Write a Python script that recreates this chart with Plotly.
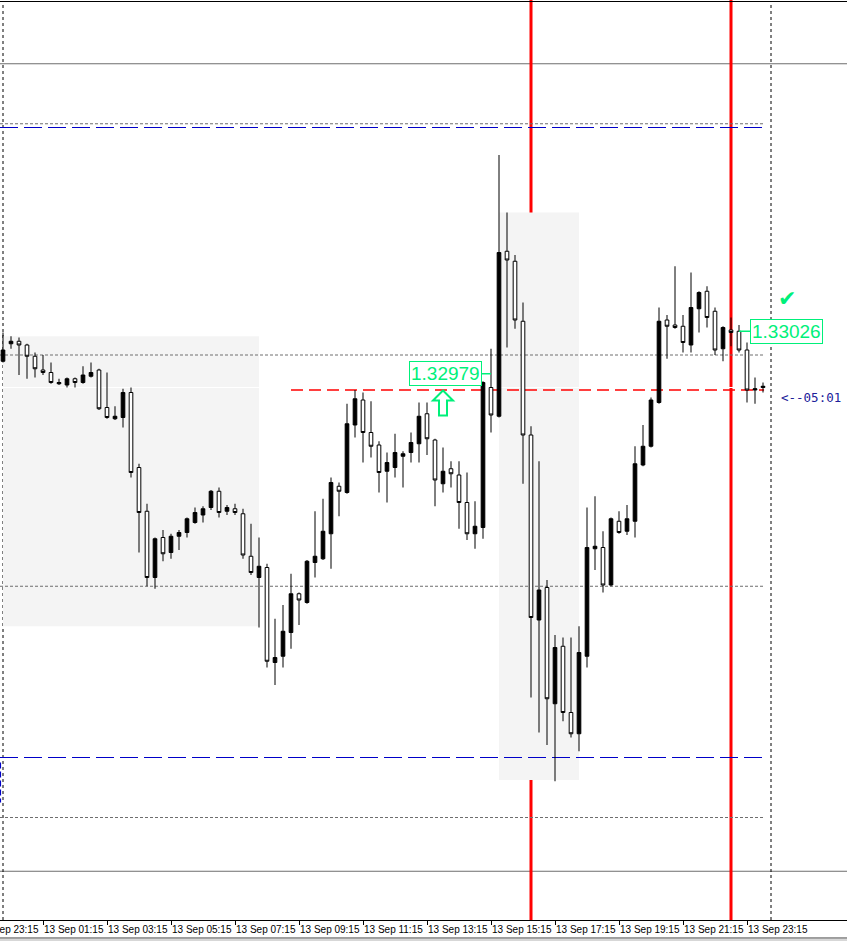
import pandas as pd
import plotly.graph_objects as go

# ---------------- data (15-minute bars, 13 Sep) ----------------
bar_times = pd.date_range("2019-09-13 00:00", periods=96, freq="15min")

opens = [1.33002, 1.33016, 1.33018, 1.33015, 1.33006, 1.32995, 1.32993, 1.32984, 1.32983, 1.32988,
         1.32985, 1.32990, 1.32995, 1.32965, 1.32956, 1.32957, 1.32977, 1.32917, 1.32882, 1.32829,
         1.32861, 1.32849, 1.32862, 1.32865, 1.32873, 1.32879, 1.32885, 1.32898, 1.32882, 1.32884,
         1.32880, 1.32846, 1.32829, 1.32837, 1.32761, 1.32766, 1.32785, 1.32816, 1.32809, 1.32841,
         1.32844, 1.32864, 1.32902, 1.32897, 1.32951, 1.32971, 1.32945, 1.32935, 1.32914, 1.32917,
         1.32926, 1.32929, 1.32936, 1.32960, 1.32939, 1.32904, 1.32916, 1.32911, 1.32889, 1.32864,
         1.32869, 1.32981, 1.32958, 1.33090, 1.33082, 1.33034, 1.32943, 1.32795, 1.32821, 1.32728,
         1.32774, 1.32721, 1.32704, 1.32766, 1.32852, 1.32853, 1.32823, 1.32874, 1.32866, 1.32874,
         1.32919, 1.32934, 1.32969, 1.33035, 1.33031, 1.33030, 1.33015, 1.33044, 1.33058, 1.33042,
         1.33012, 1.33027, 1.33026, 1.33011, 1.32979, 1.32981]
highs = [1.33025, 1.33022, 1.33021, 1.33016, 1.33009, 1.33007, 1.33001, 1.32988, 1.32989, 1.32989,
         1.32998, 1.33001, 1.32996, 1.32993, 1.32966, 1.32980, 1.32981, 1.32920, 1.32888, 1.32861,
         1.32867, 1.32864, 1.32867, 1.32877, 1.32885, 1.32886, 1.32899, 1.32901, 1.32887, 1.32888,
         1.32884, 1.32872, 1.32861, 1.32840, 1.32796, 1.32807, 1.32832, 1.32817, 1.32843, 1.32882,
         1.32892, 1.32909, 1.32905, 1.32968, 1.32979, 1.32977, 1.32970, 1.32938, 1.32929, 1.32944,
         1.32930, 1.32945, 1.32969, 1.32969, 1.32940, 1.32933, 1.32922, 1.32922, 1.32913, 1.32890,
         1.32986, 1.33012, 1.33167, 1.33121, 1.33087, 1.33049, 1.32950, 1.32922, 1.32827, 1.32783,
         1.32781, 1.32781, 1.32790, 1.32885, 1.32894, 1.32866, 1.32877, 1.32882, 1.32887, 1.32934,
         1.32951, 1.32973, 1.33045, 1.33039, 1.33078, 1.33039, 1.33073, 1.33058, 1.33062, 1.33045,
         1.33030, 1.33037, 1.33031, 1.33017, 1.32989, 1.32985]
lows = [1.33001, 1.33012, 1.32991, 1.32988, 1.32989, 1.32991, 1.32984, 1.32983, 1.32981, 1.32981,
        1.32984, 1.32989, 1.32963, 1.32956, 1.32955, 1.32949, 1.32909, 1.32849, 1.32822, 1.32820,
        1.32842, 1.32844, 1.32851, 1.32861, 1.32872, 1.32873, 1.32883, 1.32877, 1.32879, 1.32879,
        1.32844, 1.32831, 1.32789, 1.32757, 1.32743, 1.32757, 1.32772, 1.32791, 1.32808, 1.32829,
        1.32843, 1.32836, 1.32878, 1.32896, 1.32941, 1.32921, 1.32925, 1.32897, 1.32889, 1.32909,
        1.32901, 1.32921, 1.32921, 1.32927, 1.32886, 1.32897, 1.32901, 1.32868, 1.32859, 1.32852,
        1.32860, 1.32945, 1.32957, 1.33013, 1.33028, 1.32904, 1.32733, 1.32705, 1.32695, 1.32666,
        1.32714, 1.32701, 1.32690, 1.32757, 1.32835, 1.32817, 1.32822, 1.32864, 1.32863, 1.32861,
        1.32918, 1.32933, 1.32968, 1.33004, 1.33028, 1.33009, 1.33009, 1.33025, 1.33029, 1.33007,
        1.33002, 1.33014, 1.33009, 1.32969, 1.32968, 1.32977]
closes = [1.33011, 1.33018, 1.33015, 1.33006, 1.32996, 1.32993, 1.32985, 1.32985, 1.32988, 1.32985,
          1.32991, 1.32993, 1.32964, 1.32957, 1.32958, 1.32977, 1.32913, 1.32881, 1.32829, 1.32860,
          1.32848, 1.32862, 1.32865, 1.32876, 1.32881, 1.32884, 1.32898, 1.32881, 1.32885, 1.32881,
          1.32847, 1.32833, 1.32838, 1.32762, 1.32765, 1.32786, 1.32816, 1.32811, 1.32842, 1.32846,
          1.32866, 1.32905, 1.32898, 1.32952, 1.32972, 1.32945, 1.32934, 1.32913, 1.32921, 1.32929,
          1.32928, 1.32937, 1.32958, 1.32940, 1.32907, 1.32914, 1.32912, 1.32889, 1.32864, 1.32870,
          1.32985, 1.32959, 1.33089, 1.33083, 1.33035, 1.32943, 1.32797, 1.32819, 1.32732, 1.32773,
          1.32721, 1.32704, 1.32769, 1.32853, 1.32854, 1.32823, 1.32876, 1.32865, 1.32876, 1.32920,
          1.32934, 1.32971, 1.33034, 1.33030, 1.33029, 1.33017, 1.33045, 1.33057, 1.33037, 1.33011,
          1.33029, 1.33025, 1.33011, 1.32979, 1.32980, 1.32982]

tick_times = ["2019-09-13 01:15", "2019-09-13 03:15", "2019-09-13 05:15", "2019-09-13 07:15",
              "2019-09-13 09:15", "2019-09-13 11:15", "2019-09-13 13:15", "2019-09-13 15:15",
              "2019-09-13 17:15", "2019-09-13 19:15", "2019-09-13 21:15", "2019-09-13 23:15"]
tick_labels = ["13 Sep 01:15", "13 Sep 03:15", "13 Sep 05:15", "13 Sep 07:15",
               "13 Sep 09:15", "13 Sep 11:15", "13 Sep 13:15", "13 Sep 15:15",
               "13 Sep 17:15", "13 Sep 19:15", "13 Sep 21:15", "13 Sep 23:15"]
first_label = "12 Sep 23:15"

solid_levels = [1.33240, 1.32594]
dotted_levels = [1.33192, 1.33007, 1.32822, 1.32637]
blue_levels = [1.33189, 1.32685]
red_level = 1.32979
white_level = 1.32981
zones = [("2019-09-13 00:00", "2019-09-13 08:00", 1.33022, 1.32790),
         ("2019-09-13 15:30", "2019-09-13 18:00", 1.33121, 1.32667)]
red_vlines = ["2019-09-13 16:30", "2019-09-13 22:45"]
day_separators = ["2019-09-13 00:00", "2019-09-14 00:00"]

label_left = ("2019-09-13 15:15", 1.32992, "1.32979")
label_right = ("2019-09-13 23:00", 1.33026, "1.33026")
arrow_pos = ("2019-09-13 13:45", 1.32969)
check_pos = ("2019-09-14 00:30", 1.33052)
timer_pos = ("2019-09-14 00:15", 1.32973, "<--05:01")

x_range = ["2019-09-12 23:54:22.5", "2019-09-14 02:22:30"]
y_range = [1.32555, 1.332894]
line_start, line_end = x_range[0], "2019-09-13 23:47"

GREEN = "#00F07A"

fig = go.Figure()
fig.add_trace(go.Candlestick(
    x=bar_times, open=opens, high=highs, low=lows, close=closes,
    increasing=dict(line=dict(color="black", width=1), fillcolor="black"),
    decreasing=dict(line=dict(color="black", width=1), fillcolor="white"),
    whiskerwidth=0, hoverinfo="skip", showlegend=False,
))

shapes = []
for x0, x1, y0, y1 in zones:
    shapes.append(dict(type="rect", xref="x", yref="y", x0=x0, x1=x1, y0=y0, y1=y1,
                       fillcolor="#F4F4F4", line=dict(width=0), layer="below"))
shapes.append(dict(type="line", xref="x", yref="y", x0=line_start, x1=line_end,
                   y0=white_level, y1=white_level, line=dict(color="white", width=1), layer="below"))
for lv in solid_levels:
    shapes.append(dict(type="line", xref="paper", yref="y", x0=0, x1=1, y0=lv, y1=lv,
                       line=dict(color="#6E6E6E", width=1), layer="below"))
for lv in dotted_levels:
    shapes.append(dict(type="line", xref="x", yref="y", x0=line_start, x1=line_end, y0=lv, y1=lv,
                       line=dict(color="#6E6E6E", width=1, dash="3px,2px"), layer="below"))
for lv in blue_levels:
    shapes.append(dict(type="line", xref="x", yref="y", x0=line_start, x1=line_end, y0=lv, y1=lv,
                       line=dict(color="#0000C8", width=1, dash="18px,6px"), layer="below"))
shapes.append(dict(type="line", xref="x", yref="y", x0="2019-09-13 09:00", x1=line_end,
                   y0=red_level, y1=red_level,
                   line=dict(color="#FF0000", width=1.5, dash="12px,6px"), layer="below"))
shapes.append(dict(type="line", xref="x", yref="y", x0="2019-09-12 23:55", x1="2019-09-12 23:55",
                   y0=1.32681, y1=1.32649, line=dict(color="#0000C8", width=1.5, dash="6px,3px"),
                   layer="below"))
for d in day_separators:
    shapes.append(dict(type="line", xref="x", yref="paper", x0=d, x1=d, y0=0, y1=1,
                       line=dict(color="black", width=1, dash="dot"), layer="below"))
for v in red_vlines:
    shapes.append(dict(type="line", xref="x", yref="paper", x0=v, x1=v, y0=0, y1=1.003,
                       line=dict(color="#FF0000", width=3), layer="below"))
# hollow up arrow
shapes.append(dict(type="path", xref="x", yref="y", xsizemode="pixel", ysizemode="pixel",
                   xanchor=arrow_pos[0], yanchor=arrow_pos[1],
                   path="M 0 12 L 10 2 L 4 2 L 4 -13 L -4 -13 L -4 2 L -10 2 Z",
                   line=dict(color=GREEN, width=2), fillcolor="white", layer="above"))
# bottom frame lines
shapes.append(dict(type="line", xref="paper", yref="paper", x0=0, x1=1, y0=-0.0196, y1=-0.0196,
                   line=dict(color="#404040", width=1)))
shapes.append(dict(type="line", xref="paper", yref="paper", x0=0, x1=1, y0=-0.0218, y1=-0.0218,
                   line=dict(color="#B0B0B0", width=1)))

annotations = []
for (xp, yp, txt), ax in ((label_left, -46), (label_right, 47)):
    annotations.append(dict(x=xp, y=yp, xref="x", yref="y", text=txt, showarrow=True,
                            ax=ax, ay=0, arrowhead=0, arrowwidth=1.5, arrowcolor=GREEN, standoff=0,
                            font=dict(family="Liberation Sans", size=19, color=GREEN),
                            bgcolor="white", bordercolor=GREEN, borderwidth=1, borderpad=1))
annotations.append(dict(x=check_pos[0], y=check_pos[1], xref="x", yref="y", text="✔",
                        showarrow=False, font=dict(family="DejaVu Sans", size=22, color=GREEN)))
annotations.append(dict(x=timer_pos[0], y=timer_pos[1], xref="x", yref="y", text=timer_pos[2],
                        showarrow=False, xanchor="left",
                        font=dict(family="DejaVu Sans Mono", size=12.5, color="#20209A")))
annotations.append(dict(x=0, y=0, xref="paper", yref="paper", text=first_label, showarrow=False,
                        xanchor="left", yanchor="top", xshift=-23, yshift=-2,
                        font=dict(family="Liberation Sans", size=10, color="black")))

fig.update_layout(
    width=847, height=942,
    margin=dict(l=0, r=0, t=2, b=22, autoexpand=False),
    paper_bgcolor="white", plot_bgcolor="white",
    showlegend=False, boxgap=0.35,
    shapes=shapes, annotations=annotations,
    xaxis=dict(type="date", range=x_range, showgrid=False, zeroline=False, automargin=False,
               showline=True, mirror=True, linecolor="black", linewidth=1,
               ticks="outside", ticklen=4, tickcolor="black", tickangle=0,
               tickvals=tick_times, ticktext=tick_labels,
               ticklabelposition="outside right",
               tickfont=dict(family="Liberation Sans", size=10, color="black"),
               rangeslider=dict(visible=False), fixedrange=True),
    yaxis=dict(range=y_range, visible=False, showgrid=False, zeroline=False, fixedrange=True,
               automargin=False),
)

fig.write_html("out.html", config={"displayModeBar": False},
               post_script="document.body.style.margin='0px';document.body.style.overflow='hidden';")
